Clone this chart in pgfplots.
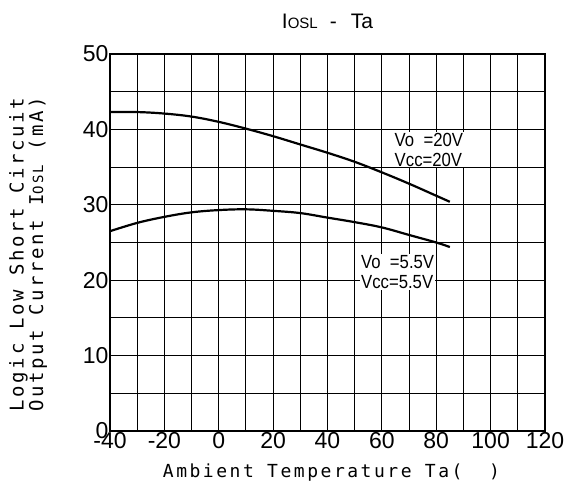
\documentclass[border=0pt]{standalone}
\usepackage{fontspec}
\setmainfont{Liberation Sans}
\newfontfamily\monof[LetterSpace=14]{DejaVu Sans Mono}
\newfontfamily\narrowf[FakeStretch=0.88]{Liberation Sans}
\usepackage{pgfplots}
\pgfplotsset{compat=1.18}

\begin{document}
\begin{tikzpicture}
\useasboundingbox (-110pt,-65pt) rectangle (458pt,431pt);
\begin{axis}[
    scale only axis,
    width=435pt, height=377pt,
    xmin=-40, xmax=120, ymin=0, ymax=50,
    xtick={-40,-20,...,120}, minor xtick={-30,-10,...,110},
    ytick={0,10,...,50}, minor ytick={5,15,...,45},
    major tick length=0pt, minor tick length=0pt,
    grid=both,
    major grid style={black, line width=1pt},
    minor grid style={black, line width=1pt},
    axis line style={black, line width=2.8pt},
    /pgf/number format/assume math mode=true,
    ticklabel style={font=\fontsize{23}{25}\selectfont},
    xticklabel style={yshift=2pt},
    yticklabel style={xshift=2pt},
    title={I{\fontsize{15}{16}\selectfont OSL}\hspace{12pt}-\hspace{14pt}Ta},
    title style={font=\fontsize{21}{22}\selectfont, yshift=16pt},
    xlabel={Ambient Temperature Ta(\ \ )},
    xlabel style={font=\monof\fontsize{18}{20}\selectfont, yshift=-8pt, xshift=4pt},
    ylabel={Logic Low Short Circuit\\Output Current I{\fontsize{14}{14}\selectfont OSL} (mA)},
    ylabel style={font=\monof\fontsize{19}{18}\selectfont, align=center, yshift=29pt, xshift=-12pt},
]
\addplot[black, line width=2.2pt, smooth, tension=0.6] coordinates {
(-40,42.3) (-30,42.3) (-20,42.1) (-10,41.7) (0,41.0) (10,40.1) (20,39.1)
(30,38.0) (40,36.9) (50,35.7) (60,34.3) (70,32.8) (80,31.2) (85,30.4)
};
\addplot[black, line width=2.2pt, smooth, tension=0.6] coordinates {
(-40,26.5) (-30,27.6) (-20,28.4) (-10,29.0) (0,29.3) (10,29.4) (20,29.2)
(30,28.9) (40,28.3) (50,27.7) (60,27.0) (70,26.0) (80,25.0) (85,24.4)
};
\node[fill=white, inner sep=1pt, align=left, font=\narrowf\fontsize{19}{20}\selectfont]
  at (axis cs:77.3,37.3) {Vo\ \ =20V\\Vcc=20V};
\node[fill=white, inner sep=1pt, align=left, font=\narrowf\fontsize{19}{20}\selectfont]
  at (axis cs:65.8,21.1) {Vo\ \ =5.5V\\Vcc=5.5V};
\end{axis}
\end{tikzpicture}
\end{document}
